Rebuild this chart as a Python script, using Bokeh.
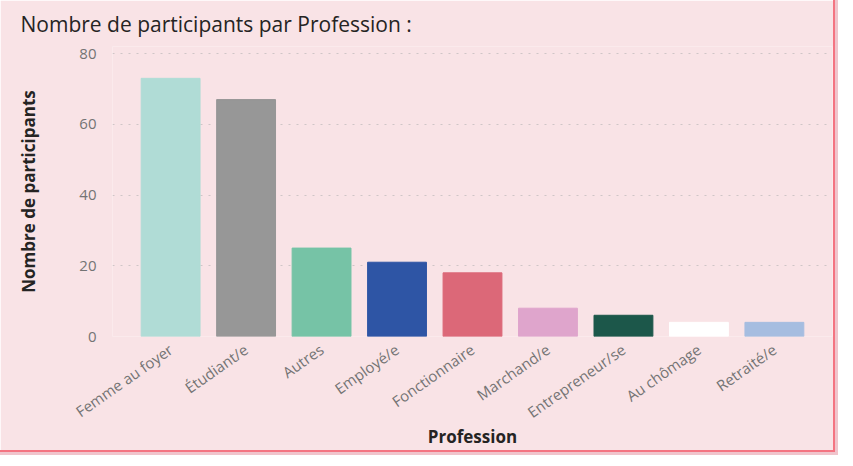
from bokeh.plotting import figure
from bokeh.models import ColumnDataSource, FactorRange, Range1d, FixedTicker
from bokeh.embed import file_html
from bokeh.resources import INLINE
import math

professions = ["Femme au foyer", "Étudiant/e", "Autres", "Employé/e", "Fonctionnaire",
               "Marchand/e", "Entrepreneur/se", "Au chômage", "Retraité/e"]
participants = [73, 67, 25, 21, 18, 8, 6, 4, 4]
colors = ["#b0dcd6", "#979797", "#76c3a6", "#2e55a5", "#dc6878",
          "#dfa5cc", "#1c574a", "#ffffff", "#a6bde0"]
y_ticks = [0, 20, 40, 60, 80]

source = ColumnDataSource(dict(x=professions, y=participants, color=colors))

BG = "#f9e3e6"
p = figure(width=833, height=450, output_backend="svg", toolbar_location=None,
           x_range=FactorRange(*professions, range_padding=0.06),
           y_range=Range1d(0, 82),
           title="Nombre de participants par Profession :")
p.styles = {"box-shadow": "0 0 0 2px #f47482, 0 0 0 5px #f0c4cc"}
p.background_fill_color = BG
p.border_fill_color = BG
p.outline_line_color = None
p.min_border_left = 112
p.min_border_right = 1
p.min_border_top = 45
p.min_border_bottom = 20

p.title.text_font = "Open Sans"
p.title.text_font_size = "21px"
p.title.text_font_style = "normal"
p.title.text_color = "#252423"
p.title.offset = -92
p.title.standoff = 16
p.title.vertical_align = "middle"

p.vbar(x="x", top="y", width=0.78, color="color", source=source)

p.xgrid.grid_line_color = None
p.ygrid.grid_line_color = "#cfc5c7"
p.ygrid.grid_line_dash = "2 6"
p.ygrid.grid_line_width = 1
p.yaxis.ticker = FixedTicker(ticks=y_ticks)

for ax in (p.xaxis[0], p.yaxis[0]):
    ax.axis_line_color = None
    ax.major_tick_line_color = None
    ax.minor_tick_line_color = None
    ax.major_label_text_font = "Open Sans"
    ax.major_label_text_color = "#747474"
    ax.major_label_text_font_size = "15px"
    ax.axis_label_text_font = "Open Sans"
    ax.axis_label_text_font_style = "bold"
    ax.axis_label_text_color = "#252423"
    ax.axis_label_text_font_size = "17px"

p.yaxis.axis_label = "Nombre de participants"
p.yaxis.major_label_standoff = 10
p.yaxis.axis_label_standoff = 36
p.xaxis.axis_label = "Profession"
p.xaxis.major_label_orientation = math.radians(35)
p.xaxis.major_label_standoff = 5
p.xaxis.axis_label_standoff = -8

open("out.html", "w").write(file_html(p, INLINE))
